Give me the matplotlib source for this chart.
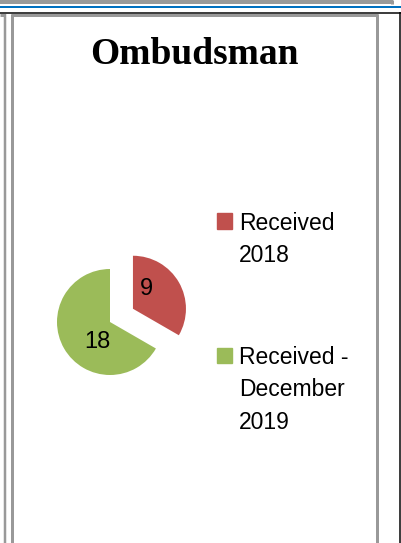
import numpy as np
import matplotlib.pyplot as plt
from matplotlib.patches import Rectangle
from matplotlib.lines import Line2D

title = "Ombudsman"
labels = ["Received\n2018", "Received -\nDecember\n2019"]
values = [9, 18]
colors = ["#C0504D", "#9BBB59"]
explode = [0.5, 0.0]

W, H = 401, 543
fig = plt.figure(figsize=(W / 100, H / 100), dpi=100, facecolor="w")


def fx(px):
    return px / W


def fy(py):
    return 1 - py / H


def hline(y, x0, x1, c, lw):
    fig.add_artist(Line2D([fx(x0), fx(x1)], [fy(y), fy(y)], color=c, lw=lw * 0.72,
                          transform=fig.transFigure, solid_capstyle="butt"))


def vline(x, y0, y1, c, lw):
    fig.add_artist(Line2D([fx(x), fx(x)], [fy(y0), fy(y1)], color=c, lw=lw * 0.72,
                          transform=fig.transFigure, solid_capstyle="butt"))


# page frame decoration
hline(2, 0, 393, "#999999", 4)
vline(392, 0, 4, "#999999", 3)
hline(7, 0, 401, "#0070C0", 2)
hline(12.5, 0, 401, "black", 1.5)
hline(15, 0, 5, "#999999", 3)
hline(15, 11, 378, "#999999", 3)
vline(5, 14, 543, "#999999", 2.5)
vline(12, 14, 543, "#999999", 3)
vline(376.5, 14, 543, "#999999", 3)
vline(400, 12, 543, "black", 1.5)

fig.text(fx(194), fy(55), title, ha="center", va="center",
         fontsize=27, fontweight="bold", family="Liberation Serif")

# pie: centre (110, 322) px, radius 53 px
r = 53
half = 1.6
ax = fig.add_axes([fx(110 - half * r), 1 - (322 + half * r) / H, 2 * half * r / W, 2 * half * r / H])
wedges, _ = ax.pie(values, colors=colors, explode=explode, startangle=90,
                   counterclock=False, radius=1)
ax.set_xlim(-half, half)
ax.set_ylim(-half, half)
ax.set_aspect("equal")
ax.axis("off")

for w, v in zip(wedges, values):
    mid = np.deg2rad((w.theta1 + w.theta2) / 2 + 27)
    cx, cy = w.center
    ax.text(cx + 0.45 * np.cos(mid), cy + 0.45 * np.sin(mid), str(v),
            ha="center", va="center", fontsize=17, family="Liberation Sans")

# legend
leg_y = [221, 355]
for lab, c, y in zip(labels, colors, leg_y):
    fig.add_artist(Rectangle((fx(217), fy(y + 7.5)), 15 / W, 15 / H, color=c,
                             transform=fig.transFigure))
    fig.text(fx(239), fy(y - 9.5), lab, ha="left", va="top", fontsize=16.5,
             family="Liberation Sans", linespacing=1.55)

plt.savefig("out.png", dpi=100)
